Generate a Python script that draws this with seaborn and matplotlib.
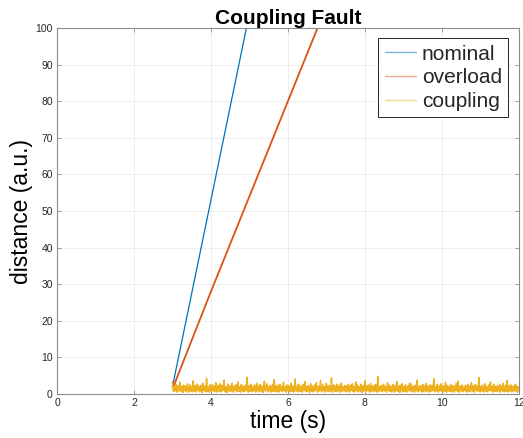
import numpy as np
import pandas as pd
import matplotlib
matplotlib.use("Agg")
import matplotlib.pyplot as plt
import seaborn as sns

# ---- data ----
nominal_t = [3.0, 3.5, 4.0, 4.5, 5.0, 5.2]
nominal_y = [2.0, 27.5, 53.0, 78.5, 104.0, 114.0]

overload_t = [3.0, 3.05, 3.1, 4.0, 5.0, 6.0, 7.0]
overload_y = [2.0, 2.5, 4.0, 28.0, 54.0, 80.0, 106.0]

coupling_t_start = 3.0
coupling_t_end = 12.0
coupling_y = [
    3.4, 1.2, 0.6, 2.1, 1.5, 0.9, 2.6, 1.1, 0.5, 1.8, 2.3, 0.8, 1.4, 3.2, 1.0, 0.7, 2.0, 1.6, 0.4, 2.4,
    1.3, 0.9, 2.2, 1.7, 0.6, 1.9, 2.8, 1.1, 0.5, 1.4, 2.5, 0.8, 1.2, 2.0, 0.6, 1.7, 3.6, 1.0, 0.7, 2.3,
    1.5, 0.5, 1.9, 2.7, 0.9, 1.3, 2.1, 0.6, 1.6, 2.4, 1.0, 0.4, 1.8, 2.9, 1.2, 0.8, 2.2, 1.4, 0.6, 4.3,
    1.1, 0.7, 2.0, 1.6, 0.5, 2.5, 1.3, 0.9, 1.7, 2.6, 0.8, 1.1, 2.2, 0.6, 1.5, 3.1, 1.0, 0.5, 1.9, 2.3,
    1.2, 0.7, 2.8, 1.4, 0.6, 1.8, 2.4, 0.9, 1.3, 3.8, 1.1, 0.6, 2.0, 1.5, 0.4, 2.1, 2.7, 1.0, 0.8, 1.6,
    2.3, 0.7, 1.2, 2.9, 1.4, 0.5, 1.9, 2.2, 0.9, 1.1, 2.5, 0.6, 1.7, 3.3, 1.0, 0.7, 2.0, 1.3, 0.5, 2.6,
    1.5, 0.8, 2.1, 1.8, 0.6, 1.2, 2.4, 0.9, 1.6, 4.6, 1.1, 0.5, 1.9, 2.3, 0.7, 1.4, 2.7, 1.0, 0.6, 2.0,
    1.7, 0.8, 2.5, 1.2, 0.5, 1.8, 3.0, 0.9, 1.3, 2.2, 0.6, 1.5, 2.6, 1.1, 0.7, 2.1, 1.6, 0.4, 2.4, 3.5,
    1.0, 0.8, 1.9, 2.8, 1.2, 0.6, 2.0, 1.5, 0.9, 2.3, 1.1, 0.5, 1.7, 2.6, 0.7, 1.4, 3.9, 1.0, 0.6, 2.2,
    1.8, 0.7, 2.4, 1.3, 0.5, 1.9, 2.7, 0.9, 1.2, 2.1, 0.6, 1.6, 3.2, 1.1, 0.8, 2.0, 1.4, 0.5, 2.5, 1.7,
    0.9, 2.3, 1.0, 0.6, 1.8, 2.9, 1.2, 0.7, 2.2, 1.5, 0.5, 2.0, 4.1, 1.1, 0.8, 1.6, 2.4, 0.6, 1.3, 2.7,
    1.0, 0.7, 2.1, 1.9, 0.5, 1.4, 2.6, 0.9, 1.2, 3.4, 1.1, 0.6, 2.0, 1.7, 0.8, 2.3, 1.5, 0.4, 1.8, 2.8,
    1.0, 0.7, 2.2, 1.3, 0.6, 1.9, 2.5, 0.9, 1.6, 3.1, 1.2, 0.5, 2.1, 1.4, 0.8, 2.4, 3.7, 1.0, 0.6, 1.7,
    2.6, 0.9, 1.3, 2.0, 0.5, 1.5, 2.9, 1.1, 0.7, 2.3, 1.8, 0.6, 2.2, 1.2, 0.8, 4.4, 1.0, 0.5, 1.9, 2.5,
    1.4, 0.7, 2.1, 1.6, 0.6, 2.7, 1.1, 0.9, 1.8, 2.4, 0.5, 1.3, 3.0, 1.0, 0.7, 2.0, 1.5, 0.8, 2.3, 1.2,
    0.6, 2.2, 1.4, 0.8, 2.6, 1.0, 0.5, 1.7, 2.4, 0.9, 1.3, 2.8, 0.7, 1.6, 2.1, 0.5, 1.2, 3.3, 0.9, 1.8,
    2.5, 0.6, 1.1, 2.0, 1.5, 0.7, 2.7, 1.3, 0.4, 1.9, 2.3, 0.8, 1.6, 3.6, 1.0, 0.6, 2.2, 1.4, 0.9, 2.5,
    1.2, 0.5, 1.8, 2.9, 0.7, 1.5, 2.1, 1.0, 0.6, 2.4, 1.7, 0.8, 2.6, 1.1, 0.5, 4.8, 1.3, 0.7, 2.0, 1.6,
    0.9, 2.3, 1.2, 0.6, 1.9, 2.7, 1.0, 0.8, 2.2, 1.4, 0.5, 1.7, 3.1, 0.9, 1.2, 2.5, 0.7, 1.5, 2.0, 0.6,
    1.8, 2.6, 1.1, 0.5, 2.3, 1.4, 0.8, 1.9, 3.4, 1.0, 0.7, 2.1, 1.6, 0.4, 2.4, 1.3, 0.9, 2.8, 1.1, 0.6,
    2.0, 1.5, 0.7, 2.5, 1.2, 0.5, 1.8, 2.2, 0.9, 1.6, 3.0, 0.8, 1.3, 2.7, 0.6, 1.4, 2.1, 1.0, 0.5, 1.9,
    2.4, 0.8, 1.2, 3.8, 1.1, 0.6, 2.0, 1.7, 0.9, 2.3, 1.4, 0.5, 1.8, 2.6, 0.7, 1.5, 2.2, 1.0, 0.6, 2.9,
    1.3, 0.8, 2.1, 1.6, 0.5, 2.5, 1.1, 0.7, 1.9, 2.4, 0.9, 1.2, 4.2, 1.0, 0.6, 2.0, 1.5, 0.8, 2.7, 1.3,
    0.5, 1.7, 2.3, 0.9, 1.4, 2.8, 0.7, 1.1, 2.2, 1.6, 0.6, 1.9, 3.2, 1.0, 0.5, 2.4, 1.3, 0.8, 2.0, 1.5,
    0.7, 2.6, 1.2, 0.6, 1.8, 2.3, 1.0, 0.5, 2.1, 1.4, 0.9, 2.9, 1.1, 0.7, 3.5, 1.6, 0.5, 2.2, 1.3, 0.8,
    1.9, 2.5, 0.6, 1.2, 2.0, 1.7, 0.9, 2.4, 1.0, 0.5, 1.5, 2.7, 0.8, 1.3, 2.1, 0.6, 1.8, 3.1, 1.1, 0.7,
    2.3, 1.4, 0.5, 1.9, 2.6, 0.9, 1.2, 2.2, 0.7, 1.6, 4.5, 1.0, 0.6, 2.0, 1.5, 0.8, 2.4, 1.3, 0.5, 1.7,
    2.8, 1.1, 0.7, 2.1, 1.4, 0.6, 1.9, 2.5, 0.9, 1.2, 3.3, 0.8, 1.6, 2.2, 0.5, 1.3, 2.7, 1.0, 0.7, 2.0,
    1.5, 0.6, 2.3, 1.8, 0.9, 1.1, 2.6, 0.5, 1.4, 2.0, 1.2, 0.8, 2.9, 1.0, 0.6, 1.7, 2.4, 0.7, 1.3, 3.7,
    1.1, 0.5, 2.2, 1.6, 0.8, 2.5, 1.2, 0.6, 1.9, 2.1, 0.9, 1.4, 2.7, 0.7, 1.0, 2.3, 1.5, 0.5, 1.8, 2.0,
]

x_ticks = [0, 2, 4, 6, 8, 10, 12]
y_ticks = [0, 10, 20, 30, 40, 50, 60, 70, 80, 90, 100]

c_nom = "#0072BD"
c_ovl = "#D95319"
c_cpl = "#EDB120"

sns.set_theme(style="whitegrid")
plt.rcParams["font.family"] = ["Liberation Sans", "DejaVu Sans"]

fig = plt.figure(figsize=(5.23, 4.38), dpi=100)
ax = fig.add_axes([0.109, 0.1005, 0.883, 0.8355])

coupling_t = np.linspace(coupling_t_start, coupling_t_end, len(coupling_y))

sns.lineplot(x=nominal_t, y=nominal_y, ax=ax, color=c_nom, lw=0.9, label="nominal", estimator=None, sort=False)
sns.lineplot(x=overload_t, y=overload_y, ax=ax, color=c_ovl, lw=1.3, label="overload", estimator=None, sort=False)
sns.lineplot(x=coupling_t, y=coupling_y, ax=ax, color=c_cpl, lw=1.1, label="coupling", estimator=None, sort=False)

ax.set_xlim(0, 12)
ax.set_ylim(0, 100)
ax.set_xticks(x_ticks)
ax.set_yticks(y_ticks)
ax.set_xticklabels([str(v) for v in x_ticks])
ax.set_yticklabels([str(v) for v in y_ticks])

ax.set_facecolor("white")
ax.grid(True, color="#ebebeb", lw=0.6)
for s in ax.spines.values():
    s.set_visible(True)
    s.set_color("#8c8c8c")
    s.set_linewidth(0.8)

ax.tick_params(axis="both", which="both", direction="in", length=3, width=0.6,
               color="#8c8c8c", labelsize=7.5, labelcolor="#262626",
               top=True, right=True, bottom=True, left=True, pad=3)

ax.set_xlabel("time (s)", fontsize=16.5, color="black", labelpad=1)
ax.set_ylabel("distance (a.u.)", fontsize=16.5, color="black", labelpad=2)
ax.set_title("Coupling Fault", fontsize=15, fontweight="bold", color="black", pad=2)

leg = ax.legend(loc="upper right", fontsize=15, frameon=True, fancybox=False,
                borderaxespad=0.5, handlelength=1.5, labelspacing=0.22,
                handletextpad=0.3, borderpad=0.3)
leg.get_frame().set_edgecolor("#262626")
leg.get_frame().set_linewidth(0.7)
leg.get_frame().set_alpha(1.0)
for h in leg.get_lines():
    h.set_alpha(0.5)
    h.set_linewidth(1.0)

fig.savefig("out.png", dpi=100)
